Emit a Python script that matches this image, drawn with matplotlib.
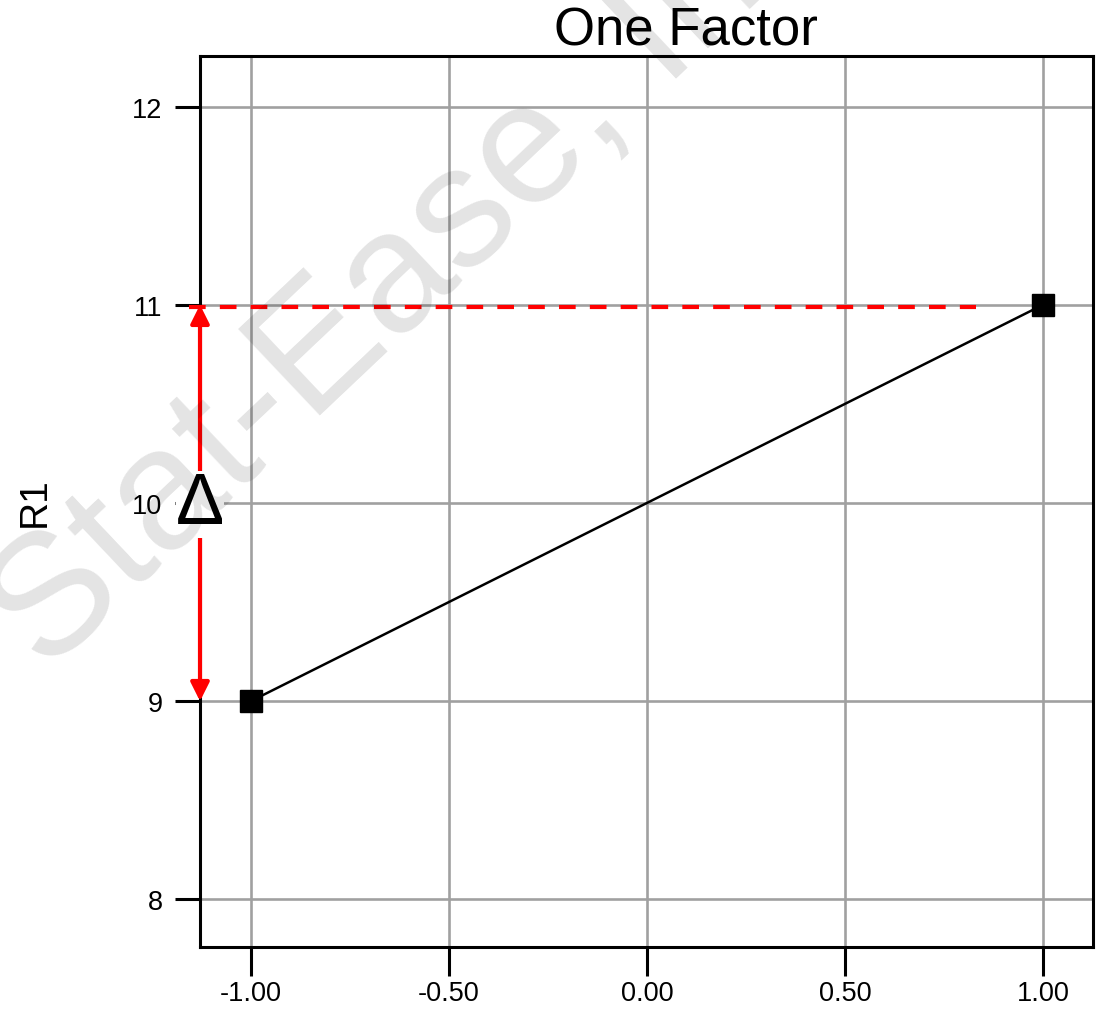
"""
    One Factor effect plot
"""
import matplotlib
matplotlib.use("Agg")
import matplotlib.pyplot as plt

# data
factor_levels = [-1.0, 1.0]
r1_values = [9.0, 11.0]
x_ticks = [-1.0, -0.5, 0.0, 0.5, 1.0]
x_labels = ["-1.00", "-0.50", "0.00", "0.50", "1.00"]
y_ticks = [8, 9, 10, 11, 12]
y_labels = ["8", "9", "10", "11", "12"]
delta_low, delta_high = 9.0, 11.0
dash_start, dash_end = -1.155, 0.83

plt.rcParams["font.family"] = ["Liberation Sans", "DejaVu Sans"]

fig = plt.figure(figsize=(10.97, 10.20), dpi=100)
ax = fig.add_axes([200 / 1097, 1 - 948 / 1020, 893 / 1097, 891 / 1020])

ax.set_xlim(-1.128, 1.126)
ax.set_ylim(7.76, 12.255)

ax.set_xticks(x_ticks)
ax.set_xticklabels(x_labels)
ax.set_yticks(y_ticks)
ax.set_yticklabels(y_labels)
ax.tick_params(direction="out", width=2.2, labelsize=19.5, colors="black")
ax.tick_params(axis="x", length=21, pad=3)
ax.tick_params(axis="y", length=18, pad=9)
ax.grid(True, color="#a0a0a0", linewidth=1.9)
ax.set_axisbelow(True)
for s in ax.spines.values():
    s.set_linewidth(2.2)
    s.set_color("black")

# 斜线 + 两端方块
ax.plot(factor_levels, r1_values, color="black", linewidth=1.8, zorder=3)
ax.plot(factor_levels, r1_values, linestyle="none", marker="s", markersize=16,
        color="black", zorder=4, clip_on=False)

# 红色虚线和双向箭头
xl = ax.get_xlim()[0]
ax.plot([dash_start, dash_end], [delta_high - 0.01, delta_high - 0.01], color="red",
        linewidth=3, linestyle=(0, (4, 3.4)), zorder=3, clip_on=False)
ax.annotate("", xy=(xl, delta_high), xytext=(xl, delta_low),
            arrowprops=dict(arrowstyle="<|-|>", color="red", lw=3, mutation_scale=28,
                            shrinkA=0, shrinkB=0),
            annotation_clip=False, zorder=5)
ax.text(xl, 9.99, "Δ", fontsize=52, ha="center", va="center", zorder=6,
        bbox=dict(facecolor="white", edgecolor="none", pad=0), clip_on=False)

# 水印
fig.text(362 / 1097, 1 - 314 / 1020, "© Stat-Ease, Inc.", fontsize=124, rotation=43.4,
         color="black", alpha=0.11, ha="center", va="center", rotation_mode="anchor", zorder=10)

fig.text(686 / 1097, 1 - 32 / 1020, "One Factor", fontsize=38, ha="center", va="center",
         zorder=11)
fig.text(35 / 1097, 1 - 502 / 1020, "R1", fontsize=28, rotation=90, ha="center", va="center",
         zorder=11)

fig.savefig("out.png", dpi=100)
